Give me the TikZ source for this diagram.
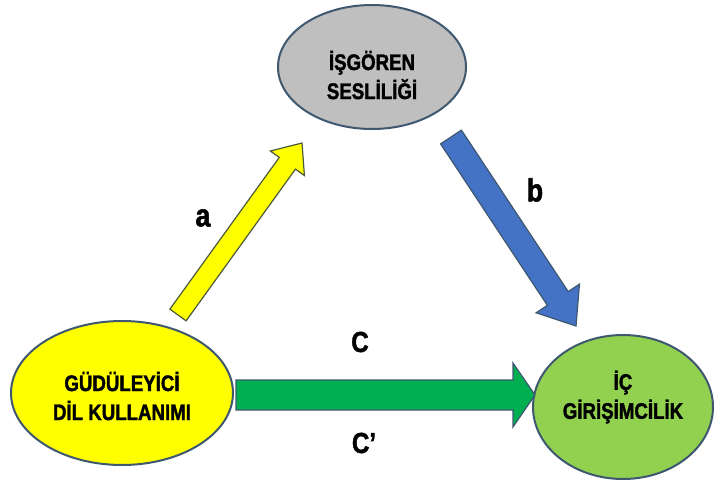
\documentclass[tikz,border=0pt]{standalone}
\usepackage{fontspec}
\setmainfont{Liberation Sans}[FakeStretch=0.83]
\newfontfamily\heavyfont{Liberation Sans Bold}[FakeStretch=0.83, FakeBold=1.6]
\usetikzlibrary{calc}
\definecolor{edgec}{HTML}{3E5870}
\definecolor{greyfill}{HTML}{BFBFBF}
\definecolor{yelfill}{HTML}{FFFF00}
\definecolor{grnfill}{HTML}{92D050}
\definecolor{arrgreen}{HTML}{00B050}
\definecolor{arrblue}{HTML}{4472C4}
\definecolor{yeledge}{HTML}{4D5A3A}
\newcommand\fatarrow[6]{% from, to, half shaft, half head, head length, style
  \coordinate (fa-h) at ($(#2)!#5!(#1)$);
  \filldraw[#6] ($(#1)!#3!90:(#2)$) -- ($(fa-h)!#3!90:(#2)$) -- ($(fa-h)!#4!90:(#2)$) -- (#2)
    -- ($(fa-h)!#4!-90:(#2)$) -- ($(fa-h)!#3!-90:(#2)$) -- ($(#1)!#3!-90:(#2)$) -- cycle;
}
\tikzset{
  ovaltext/.style={align=center, font=\fontsize{22.5}{29}\heavyfont},
  lab/.style={font=\fontsize{32}{34}\heavyfont},
  clab/.style={font=\fontsize{29}{30}\heavyfont},
  ab/.style={line width=1.2pt, line join=miter}
}
\begin{document}
\begin{tikzpicture}[x=1pt,y=-1pt]
\useasboundingbox (0,0) rectangle (716,485);
% ellipses
\filldraw[fill=greyfill, draw=edgec, line width=2pt] (372,67) ellipse [x radius=94, y radius=62];
\node[ovaltext] (isg) at (372,75) {İŞGÖREN\\SESLİLİĞİ};
\filldraw[fill=yelfill, draw=edgec, line width=2pt] (122,393) ellipse [x radius=111, y radius=72];
\node[ovaltext] (gud) at (122,396) {GÜDÜLEYİCİ\\DİL KULLANIMI};
\filldraw[fill=grnfill, draw=edgec, line width=2pt] (623,407) ellipse [x radius=90, y radius=72];
\node[ovaltext] (ic) at (623,397) {İÇ\\GİRİŞİMCİLİK};
% arrows
\coordinate (ya) at (178,315); \coordinate (yb) at (302,143);
\fatarrow{ya}{yb}{10pt}{21pt}{25pt}{ab, fill=yelfill, draw=yeledge}
\coordinate (ba) at (451,137); \coordinate (bb) at (576,326);
\fatarrow{ba}{bb}{12.5pt}{26pt}{33pt}{ab, fill=arrblue, draw=edgec}
\coordinate (ga) at (236,395); \coordinate (gb) at (535,395);
\fatarrow{ga}{gb}{15pt}{32pt}{22pt}{ab, fill=arrgreen, draw=edgec}
% labels
\node[lab] (la) at (203,218) {a};
\node[lab] (lb) at (535,190) {b};
\node[clab] (lc) at (360,342) {C};
\node[clab] (lc2) at (364,443) {C’};
\end{tikzpicture}
\end{document}
